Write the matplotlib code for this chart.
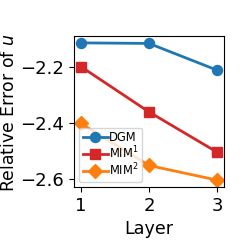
import numpy as np
import matplotlib.pyplot as plt

layers = [1, 2, 3]
dgm = [-2.116, -2.118, -2.213]
mim1 = [-2.200, -2.361, -2.504]
mim2 = [-2.402, -2.551, -2.603]

fig = plt.figure(figsize=(2.49, 2.49), dpi=100)
ax = fig.add_axes([74/249, 1 - 187/249, 150/249, 151/249])
ax.plot(layers, dgm, color='#1f77b4', marker='o', markersize=7.2, linewidth=2, label='DGM')
ax.plot(layers, mim1, color='#d62728', marker='s', markersize=7.2, linewidth=2, label='MIM$^1$')
ax.plot(layers, mim2, color='#ff7f0e', marker='D', markersize=7.2, linewidth=2, label='MIM$^2$')

ax.set_xticks([1, 2, 3])
ax.set_yticks([-2.6, -2.4, -2.2])
ax.tick_params(labelsize=13)
ax.set_xlabel('Layer', fontsize=12.6)
ax.set_ylabel('Relative Error of $u$', fontsize=12.4)
ax.yaxis.set_label_coords(-0.37, 0.49)
ax.legend(loc='lower left', fontsize=8.3, labelspacing=0.05, borderpad=0.3,
          handletextpad=0.1, handlelength=2.2, borderaxespad=0.45)

plt.savefig('out.png', dpi=100)
